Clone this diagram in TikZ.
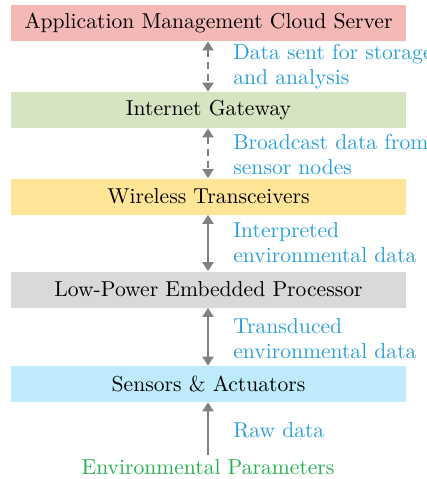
\documentclass[tikz,border=0pt]{standalone}
\usetikzlibrary{arrows.meta}
\definecolor{cloudpink}{HTML}{F4B8B6}
\definecolor{gatewaygreen}{HTML}{D6E4C1}
\definecolor{radioyellow}{HTML}{FFE597}
\definecolor{cpugray}{HTML}{D9D9D9}
\definecolor{sensorblue}{HTML}{BDEBFC}
\definecolor{flowblue}{HTML}{2B9FD9}
\definecolor{envgreen}{HTML}{22B14C}
\definecolor{linkgray}{HTML}{808080}
\tikzset{
  layer/.style={fill=#1, draw=none, minimum width=197.5pt, minimum height=18pt,
    inner sep=0pt, font=\fontsize{10.8}{12.5}\selectfont},
  flow/.style={text=flowblue, align=left, anchor=west, inner sep=0pt,
    font=\fontsize{10.8}{12.5}\selectfont},
  link/.style={draw=linkgray, line width=1pt, {Triangle[length=4.5pt,width=5.5pt]}-{Triangle[length=4.5pt,width=5.5pt]}},
  uplink/.style={draw=linkgray, line width=1pt, -{Triangle[length=4.5pt,width=5.5pt]}},
  wireless/.style={dash pattern=on 3.5pt off 2.5pt}
}
\begin{document}
\begin{tikzpicture}[x=0.5pt, y=-0.5pt]
  \useasboundingbox (0,0) rectangle (427,479);
  % protocol stack, top to bottom
  \node[layer=cloudpink]   (cloud)   at (208.5,23)  {Application Management Cloud Server};
  \node[layer=gatewaygreen] (gateway) at (208.5,110) {Internet Gateway};
  \node[layer=radioyellow]  (radio)   at (208.5,196.5) {Wireless Transceivers};
  \node[layer=cpugray]      (cpu)     at (208.5,289.5) {Low-Power Embedded Processor};
  \node[layer=sensorblue]   (sensors) at (208.5,384) {Sensors \& Actuators};
  \node[text=envgreen, inner sep=2pt, font=\fontsize{10.8}{12.5}\selectfont]
    (env) at (208,467) {Environmental Parameters};

  % links between layers
  \draw[link, wireless] (cloud.south -| 208,0) -- (gateway.north -| 208,0);
  \draw[link, wireless] (gateway.south -| 208,0) -- (radio.north -| 208,0);
  \draw[link] (radio.south -| 208,0) -- (cpu.north -| 208,0);
  \draw[link] (cpu.south -| 208,0) -- (sensors.north -| 208,0);
  \draw[uplink] (env.north -| 208,0) -- (sensors.south -| 208,0);

  % data descriptions
  \node[flow] (l1) at (233,67)  {Data sent for storage\\and analysis};
  \node[flow] (l2) at (233,154) {Broadcast data from\\sensor nodes};
  \node[flow] (l3) at (233,243) {Interpreted\\environmental data};
  \node[flow] (l4) at (233,339) {Transduced\\environmental data};
  \node[flow] (l5) at (233,430) {Raw data};
\end{tikzpicture}
\end{document}
